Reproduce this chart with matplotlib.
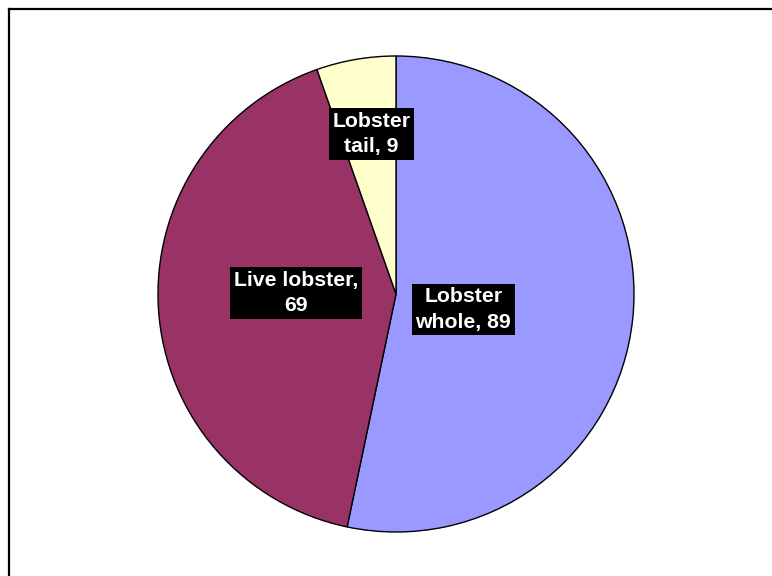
import numpy as np
import matplotlib

matplotlib.use("Agg")
import matplotlib.pyplot as plt
from matplotlib.lines import Line2D

plt.rcParams["font.family"] = ["Liberation Sans", "DejaVu Sans"]

# product shares (clockwise from 12 o'clock)
products = ["Lobster\nwhole", "Live lobster,\n", "Lobster\ntail"]
counts = [89, 69, 9]
colors = ["#9999FF", "#993366", "#FFFFCC"]
label_radius = [0.29, 0.42, 0.68]
label_shift_deg = [-7, -4.4, -1]

W, H, DPI = 772, 576, 100
fig = plt.figure(figsize=(W / DPI, H / DPI), dpi=DPI)

# chart frame: only left and top edges fall inside the canvas
fig.add_artist(Line2D([8.5 / W, 8.5 / W], [0, 1 - 8.5 / H], transform=fig.transFigure,
                      color="black", lw=1.6))
fig.add_artist(Line2D([8.5 / W, 1], [1 - 8.5 / H, 1 - 8.5 / H], transform=fig.transFigure,
                      color="black", lw=1.6))

cx, cy, r = 396, H - 294, 238
ax = fig.add_axes([(cx - r) / W, (cy - r) / H, 2 * r / W, 2 * r / H])
wedges, _ = ax.pie(counts, colors=colors, startangle=90, counterclock=False, radius=1,
                   wedgeprops=dict(edgecolor="black", linewidth=1.0))
ax.set_xlim(-1, 1)
ax.set_ylim(-1, 1)
ax.set_aspect("equal")
ax.axis("off")

for w, name, n, rf, sh in zip(wedges, products, counts, label_radius, label_shift_deg):
    mid = np.deg2rad((w.theta1 + w.theta2) / 2 + sh)
    if name.endswith("\n"):
        txt = f"{name}{n}"
    else:
        txt = f"{name}, {n}"
    ax.text(rf * np.cos(mid), rf * np.sin(mid), txt, ha="center", va="center",
            color="white", fontsize=15.3, fontweight="bold", linespacing=1.45,
            bbox=dict(facecolor="black", edgecolor="none", pad=2.5))

fig.savefig("out.png", dpi=DPI)
